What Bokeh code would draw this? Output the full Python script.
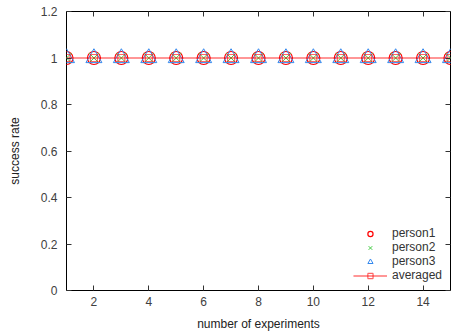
from bokeh.plotting import figure
from bokeh.models import Range1d, FixedTicker, CustomJSTickFormatter, LinearAxis, Legend, LegendItem
from bokeh.embed import file_html
from bokeh.resources import INLINE

experiments = [1, 2, 3, 4, 5, 6, 7, 8, 9, 10, 11, 12, 13, 14, 15]
person1 = [1, 1, 1, 1, 1, 1, 1, 1, 1, 1, 1, 1, 1, 1, 1]
person2 = [1, 1, 1, 1, 1, 1, 1, 1, 1, 1, 1, 1, 1, 1, 1]
person3 = [1, 1, 1, 1, 1, 1, 1, 1, 1, 1, 1, 1, 1, 1, 1]
averaged = [1, 1, 1, 1, 1, 1, 1, 1, 1, 1, 1, 1, 1, 1, 1]
x_ticks = [2, 4, 6, 8, 10, 12, 14]
y_ticks = [0, 0.2, 0.4, 0.6, 0.8, 1.0, 1.2]

FONT = "Liberation Sans"
p = figure(width=454, height=333, output_backend="svg", toolbar_location=None,
           x_range=Range1d(1, 15), y_range=Range1d(0, 1.2),
           min_border_left=66, min_border_right=4, min_border_top=11, min_border_bottom=42)
p.xgrid.visible = False
p.ygrid.visible = False
p.outline_line_color = "black"
p.outline_line_width = 1
p.background_fill_color = "white"

fmt = CustomJSTickFormatter(code="return (Math.round(tick*10)/10).toString();")
blank = CustomJSTickFormatter(code="return '';")

def style(ax):
    ax.axis_line_color = None
    ax.major_tick_in = 5
    ax.major_tick_out = 0
    ax.minor_tick_line_color = None
    ax.major_tick_line_color = "#333333"
    ax.major_label_text_font = FONT
    ax.major_label_text_font_size = "12px"
    ax.major_label_text_color = "#404040"
    ax.axis_label_text_font = FONT
    ax.axis_label_text_font_size = "12px"
    ax.axis_label_text_font_style = "normal"
    ax.axis_label_text_color = "#222222"

p.xaxis.ticker = FixedTicker(ticks=x_ticks)
p.yaxis.ticker = FixedTicker(ticks=y_ticks)
p.xaxis.formatter = fmt
p.yaxis.formatter = fmt
p.xaxis.axis_label = "number of experiments"
p.yaxis.axis_label = "success rate"
style(p.xaxis[0])
style(p.yaxis[0])
p.xaxis.major_label_standoff = 6
p.yaxis.major_label_standoff = 9
p.xaxis.axis_label_standoff = 8
p.yaxis.axis_label_standoff = 16

top = LinearAxis(ticker=FixedTicker(ticks=x_ticks), formatter=blank,
                 major_label_standoff=0)
right = LinearAxis(ticker=FixedTicker(ticks=y_ticks), formatter=blank,
                   major_label_standoff=0)
style(top)
style(right)
p.add_layout(top, "above")
p.add_layout(right, "right")

r1 = p.scatter(experiments, person1, marker="circle", size=13, fill_color=None,
               line_color="#ff0000", line_width=1.2)
r2 = p.scatter(experiments, person2, marker="x", size=14, line_color="#44cc44", line_width=1)
r3 = p.scatter(experiments, person3, marker="triangle", size=16, fill_color=None,
               line_color="#3388ee", line_width=1)
r4l = p.line(experiments, averaged, line_color="#ff0000", line_alpha=0.55, line_width=1.5)
r4s = p.scatter(experiments, averaged, marker="square", size=7, fill_color=None,
                line_color="#ff0000", line_alpha=0.6, line_width=1.2)

legend = Legend(items=[
    LegendItem(label="person1", renderers=[r1]),
    LegendItem(label="person2", renderers=[r2]),
    LegendItem(label="person3", renderers=[r3]),
    LegendItem(label="averaged", renderers=[r4l, r4s]),
], location="bottom_right")
legend.border_line_color = None
legend.background_fill_alpha = 0
legend.label_text_font = FONT
legend.label_text_font_size = "12px"
legend.label_text_color = "#333333"
legend.glyph_width = 34
legend.glyph_height = 13
legend.label_height = 13
legend.spacing = 0
legend.padding = 2
legend.margin = 8
p.add_layout(legend, "center")

open("out.html", "w").write(file_html(p, INLINE))
